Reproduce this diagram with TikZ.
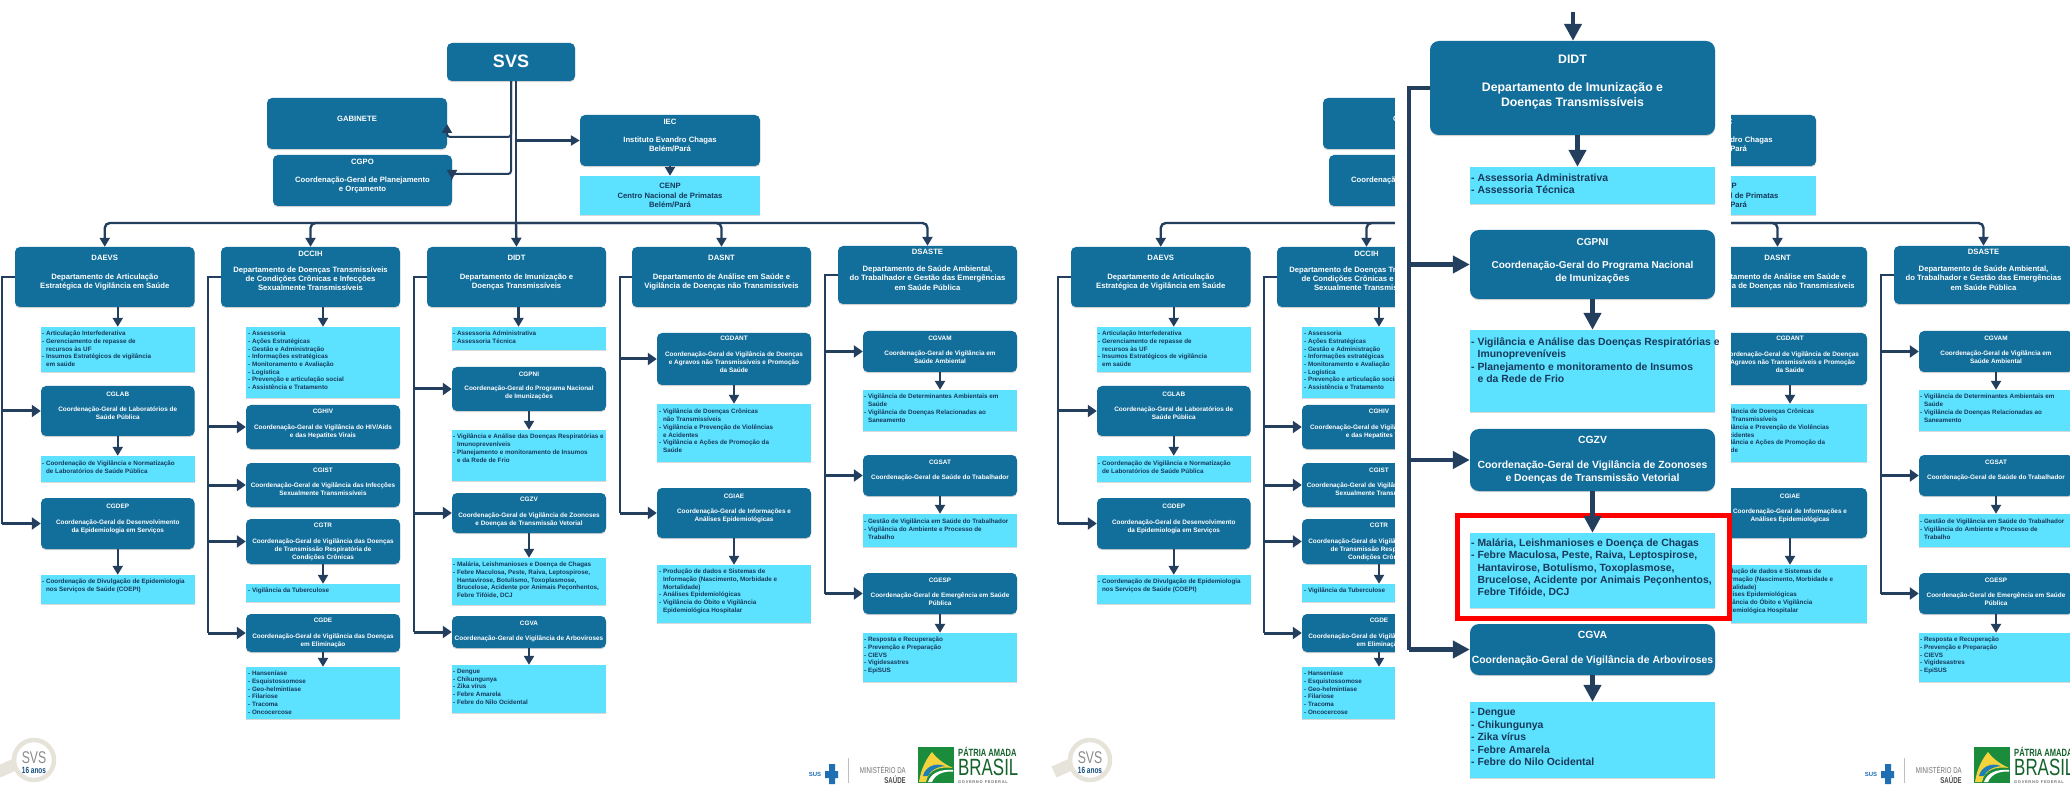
\documentclass[tikz,border=0pt]{standalone}
\usepackage{fontspec}
\setmainfont{Liberation Sans}
\newfontfamily\condfont[FakeStretch=0.72]{Liberation Sans}
\usetikzlibrary{arrows.meta,shadows}

\definecolor{svsblue}{HTML}{126E9B}
\definecolor{svslight}{HTML}{5CE1FF}
\definecolor{svsline}{HTML}{243F5E}
\definecolor{svstext}{HTML}{17395A}
\definecolor{logoring}{HTML}{E6E4DA}
\definecolor{logogreen}{HTML}{1B8C3C}
\definecolor{logoyellow}{HTML}{F5D33C}
\definecolor{logoblue}{HTML}{1F7FB5}
\definecolor{susblue}{HTML}{1F6FB5}

\tikzset{
  darkbox/.style={fill=svsblue, rounded corners=5pt, inner sep=0pt, drop shadow={shadow xshift=0pt, shadow yshift=-1.2pt, opacity=.35}},
  lightbox/.style={fill=svslight, inner sep=0pt, drop shadow={shadow xshift=0pt, shadow yshift=-1.2pt, opacity=.3}},
  depttext/.style={text=white, align=center, anchor=north, inner sep=0pt, yshift=3pt, font=\bfseries\fontsize{7.7}{9.2}\selectfont},
  coordtext/.style={text=white, align=center, anchor=north, inner sep=0pt, yshift=3pt, font=\bfseries\fontsize{6.4}{8}\selectfont},
  listtext/.style={text=svstext, align=left, anchor=north west, inner sep=0pt, yshift=3pt, font=\bfseries\fontsize{6.3}{7.7}\selectfont},
  busline/.style={draw=svsline, line width=2.5pt},
  flow/.style={draw=svsline, line width=2.4pt, -{Triangle[length=9pt,width=10pt]}},
  sideflow/.style={flow, line width=3pt, -{Triangle[length=9pt,width=12pt]}},
}

% box: name, x0, y0, x1, y1, text style, y of first line, text
\newcommand{\orgbox}[8]{
  \node[darkbox, minimum width={(#4-#2)*1pt}, minimum height={(#5-#3)*1pt}] (#1) at ({(#2+#4)/2},{(#3+#5)/2}) {};
  \node[#6] (#1-t) at ({(#2+#4)/2},#7) {#8};
}
% list: name, x0, y0, x1, y1, x of text, y of first line, text
\newcommand{\orglist}[8]{
  \node[lightbox, minimum width={(#4-#2)*1pt}, minimum height={(#5-#3)*1pt}] (#1) at ({(#2+#4)/2},{(#3+#5)/2}) {};
  \node[listtext] (#1-t) at (#6,#7) {#8};
}
\newcommand{\cont}{\hspace*{.62em}}

% what the enlarged column covers on the right
\newcommand{\orgcentre}{
  \orgbox{svs}{447}{43}{575}{81}{depttext, font=\bfseries\fontsize{18}{20}\selectfont, yshift=4pt}{62}{SVS}
  \orgbox{didt}{427}{247}{606}{307}{depttext}{258}{DIDT\\[10pt]Departamento de Imunização e\\Doenças Transmissíveis}
  \orglist{didt-l}{452}{327}{606}{350}{453}{334}{- Assessoria Administrativa\\- Assessoria Técnica}
  \orgbox{cgpni}{452}{367}{606}{411}{coordtext}{375}{CGPNI\\[6pt]Coordenação-Geral do Programa Nacional\\de Imunizações}
  \orglist{cgpni-l}{452}{430}{606}{481}{453}{437}{- Vigilância e Análise das Doenças Respiratórias e\\\cont Imunopreveníveis\\- Planejamento e monitoramento de Insumos\\\cont e da Rede de Frio}
  \orgbox{cgzv}{452}{493}{606}{533}{coordtext}{500}{CGZV\\[8pt]Coordenação-Geral de Vigilância de Zoonoses\\e Doenças de Transmissão Vetorial}
  \orglist{cgzv-l}{452}{558}{606}{605}{453}{565}{- Malária, Leishmanioses e Doença de Chagas\\- Febre Maculosa, Peste, Raiva, Leptospirose,\\\cont Hantavirose, Botulismo, Toxoplasmose,\\\cont Brucelose, Acidente por Animais Peçonhentos,\\\cont Febre Tifóide, DCJ}
  \orgbox{cgva}{452}{616}{606}{648}{coordtext}{624}{CGVA\\[7pt]Coordenação-Geral de Vigilância de Arboviroses}
  \orglist{cgva-l}{452}{665}{606}{713}{453}{672}{- Dengue\\- Chikungunya\\- Zika vírus\\- Febre Amarela\\- Febre do Nilo Ocidental}

  \draw[busline] ([xshift=5pt]svs.south) -- (bus-top);
  \coordinate (gab-end) at (447,124);
  \coordinate (cgpo-end) at (452,179);
  \draw[flow, line width=2pt, rounded corners=3pt] (svs.south) -- (511,137) -- (447,137) -- (gab-end);
  \draw[flow, line width=2pt, rounded corners=3pt] (svs.south) -- (511,174) -- (452,174) -- (cgpo-end);
  \draw[flow] (bus-top |- iec.west) -- (iec.west);
  \draw[flow] (iec.south) -- (cenp.north);
  \draw[flow] (bus-top) -- (didt.north);

  \coordinate (rail-c) at (414,0);
  \coordinate (rail-d) at (620,0);
  \draw[busline] (didt.west) -- (rail-c |- didt.west) -- (rail-c |- cgva.west);
  \draw[busline] (dasnt.west) -- (rail-d |- dasnt.west) -- (rail-d |- cgiae.west);
  \draw[sideflow] (rail-c |- cgpni.west) -- (cgpni.west);
  \draw[sideflow] (rail-c |- cgzv.west) -- (cgzv.west);
  \draw[sideflow] (rail-c |- cgva.west) -- (cgva.west);
  \draw[sideflow] (rail-d |- cgdant.west) -- (cgdant.west);
  \draw[sideflow] (rail-d |- cgiae.west) -- (cgiae.west);
  \draw[flow] ([xshift=2pt]didt.south) -- ([xshift=2pt]didt.south |- didt-l.north);
  \draw[flow] (cgpni.south) -- (cgpni-l.north);
  \draw[flow] (cgzv.south) -- (cgzv-l.north);
  \draw[flow] (cgva.south) -- (cgva-l.north);
}

\newcommand{\orgchart}{
  % top of the chart
  \orgbox{gabinete}{267}{98}{447}{149}{depttext}{119}{GABINETE}
  \orgbox{cgpo}{273}{155}{452}{206}{depttext}{162}{CGPO\\[9pt]Coordenação-Geral de Planejamento\\e Orçamento}
  \orgbox{iec}{580}{115}{760}{166}{depttext}{122}{IEC\\[9pt]Instituto Evandro Chagas\\Belém/Pará}
  \node[lightbox, minimum width=180pt, minimum height=39pt, text=svstext, align=center, font=\bfseries\fontsize{7.7}{9.2}\selectfont] (cenp) at (670,195.5) {CENP\\Centro Nacional de Primatas\\Belém/Pará};

  % departments
  \orgbox{daevs}{15}{247}{194.5}{307}{depttext}{258}{DAEVS\\[10pt]Departamento de Articulação\\Estratégica de Vigilância em Saúde}
  \orgbox{dccih}{221}{247}{400}{307}{depttext}{253.5}{DCCIH\\[7pt]Departamento de Doenças Transmissíveis\\de Condições Crônicas e Infecções\\Sexualmente Transmissíveis}
  \orgbox{dasnt}{632}{247}{811}{307}{depttext}{258}{DASNT\\[10pt]Departamento de Análise em Saúde e\\Vigilância de Doenças não Transmissíveis}
  \orgbox{dsaste}{838}{246}{1017}{304}{depttext}{252}{DSASTE\\[8pt]Departamento de Saúde Ambiental,\\do Trabalhador e Gestão das Emergências\\em Saúde Pública}

  % first column
  \orglist{daevs-l}{41}{327}{194.5}{372}{42}{334}{- Articulação Interfederativa\\- Gerenciamento de repasse de\\\cont recursos às UF\\- Insumos Estratégicos de vigilância\\\cont em saúde}
  \orgbox{colab}{41}{386}{194.5}{436}{coordtext}{395}{CGLAB\\[7pt]Coordenação-Geral de Laboratórios de\\Saúde Pública}
  \orglist{colab-l}{41}{456}{194.5}{482}{42}{464}{- Coordenação de Vigilância e Normatização\\\cont de Laboratórios de Saúde Pública}
  \orgbox{codep}{41}{498}{194.5}{549}{coordtext}{507}{CGDEP\\[8pt]Coordenação-Geral de Desenvolvimento\\da Epidemiologia em Serviços}
  \orglist{codep-l}{41}{575}{194.5}{604}{42}{582}{- Coordenação de Divulgação de Epidemiologia\\\cont nos Serviços de Saúde (COEPI)}

  % second column
  \orglist{dccih-l}{246}{327}{400}{398}{248}{334}{- Assessoria\\- Ações Estratégicas\\- Gestão e Administração\\- Informações estratégicas\\- Monitoramento e Avaliação\\- Logística\\- Prevenção e articulação social\\- Assistência e Tratamento}
  \orgbox{cghiv}{246}{405}{400}{449}{coordtext}{412}{CGHIV\\[8pt]Coordenação-Geral de Vigilância do HIV/Aids\\e das Hepatites Virais}
  \orgbox{cgist}{246}{463}{400}{507}{coordtext}{471}{CGIST\\[7pt]Coordenação-Geral de Vigilância das Infecções\\Sexualmente Transmissíveis}
  \orgbox{cgtr}{246}{519}{400}{564}{coordtext}{526}{CGTR\\[8pt]Coordenação-Geral de Vigilância das Doenças\\de Transmissão Respiratória de\\Condições Crônicas}
  \orglist{cgtr-l}{246}{584}{400}{602}{248}{591}{- Vigilância da Tuberculose}
  \orgbox{cgde}{246}{614}{400}{652}{coordtext}{621}{CGDE\\[8pt]Coordenação-Geral de Vigilância das Doenças\\em Eliminação}
  \orglist{cgde-l}{246}{667}{400}{719}{248}{674}{- Hanseníase\\- Esquistossomose\\- Geo-helmintíase\\- Filariose\\- Tracoma\\- Oncocercose}

  % fourth column
  \orgbox{cgdant}{657}{333}{811}{385}{coordtext}{339}{CGDANT\\[8pt]Coordenação-Geral de Vigilância de Doenças\\e Agravos não Transmissíveis e Promoção\\da Saúde}
  \orglist{cgdant-l}{657}{404}{811}{462}{659}{412}{- Vigilância de Doenças Crônicas\\\cont não Transmissíveis\\- Vigilância e Prevenção de Violências\\\cont e Acidentes\\- Vigilância e Ações de Promoção da\\\cont Saúde}
  \orgbox{cgiae}{657}{488}{811}{538}{coordtext}{497}{CGIAE\\[7pt]Coordenação-Geral de Informações e\\Análises Epidemiológicas}
  \orglist{cgiae-l}{657}{565}{811}{623}{659}{572}{- Produção de dados e Sistemas de\\\cont Informação (Nascimento, Morbidade e\\\cont Mortalidade)\\- Análises Epidemiológicas\\- Vigilância do Óbito e Vigilância\\\cont Epidemiológica Hospitalar}

  % fifth column
  \orgbox{cgvam}{863}{331}{1017}{372}{coordtext}{339}{CGVAM\\[7pt]Coordenação-Geral de Vigilância em\\Saúde Ambiental}
  \orglist{cgvam-l}{863}{390}{1017}{431}{864}{397}{- Vigilância de Determinantes Ambientais em\\\cont Saúde\\- Vigilância de Doenças Relacionadas ao\\\cont Saneamento}
  \orgbox{cgsat}{863}{455}{1017}{496}{coordtext}{463}{CGSAT\\[7pt]Coordenação-Geral de Saúde do Trabalhador}
  \orglist{cgsat-l}{863}{514}{1017}{547}{864}{522}{- Gestão de Vigilância em Saúde do Trabalhador\\- Vigilância do Ambiente e Processo de\\\cont Trabalho}
  \orgbox{cgesp}{863}{573}{1017}{614}{coordtext}{581}{CGESP\\[7pt]Coordenação-Geral de Emergência em Saúde\\Pública}
  \orglist{cgesp-l}{863}{633}{1017}{682}{864}{640}{- Resposta e Recuperação\\- Prevenção e Preparação\\- CIEVS\\- Vigidesastres\\- EpiSUS}

  % top bus
  \coordinate (bus-top) at (516,223);
  \draw[flow, rounded corners=5pt] (bus-top) -| (daevs.north);
  \draw[flow, rounded corners=5pt] (bus-top) -| (dccih.north);
  \draw[flow, rounded corners=5pt] (bus-top) -| (dasnt.north);
  \draw[flow, rounded corners=5pt] (bus-top) -| (dsaste.north);

  % column rails
  \coordinate (rail-a) at (2,0);
  \coordinate (rail-b) at (208,0);
  \coordinate (rail-e) at (825,0);
  \draw[busline] (daevs.west) -- (rail-a |- daevs.west) -- (rail-a |- codep.west);
  \draw[busline] (dccih.west) -- (rail-b |- dccih.west) -- (rail-b |- cgde.west);
  \draw[busline] (dsaste.west) -- (rail-e |- dsaste.west) -- (rail-e |- cgesp.west);
  \draw[sideflow] (rail-a |- colab.west) -- (colab.west);
  \draw[sideflow] (rail-a |- codep.west) -- (codep.west);
  \draw[sideflow] (rail-b |- cghiv.west) -- (cghiv.west);
  \draw[sideflow] (rail-b |- cgist.west) -- (cgist.west);
  \draw[sideflow] (rail-b |- cgtr.west) -- (cgtr.west);
  \draw[sideflow] (rail-b |- cgde.west) -- (cgde.west);
  \draw[sideflow] (rail-e |- cgvam.west) -- (cgvam.west);
  \draw[sideflow] (rail-e |- cgsat.west) -- (cgsat.west);
  \draw[sideflow] (rail-e |- cgesp.west) -- (cgesp.west);

  % links inside the columns
  \draw[flow] (daevs-l.north |- daevs.south) -- (daevs-l.north);
  \draw[flow] (colab.south) -- (colab-l.north);
  \draw[flow] (codep.south) -- (codep-l.north);
  \draw[flow] (dccih-l.north |- dccih.south) -- (dccih-l.north);
  \draw[flow] (cgtr.south) -- (cgtr-l.north);
  \draw[flow] (cgde.south) -- (cgde-l.north);
  \draw[flow] (cgdant.south) -- (cgdant-l.north);
  \draw[flow] (cgiae.south) -- (cgiae-l.north);
  \draw[flow] (cgvam.south) -- (cgvam-l.north);
  \draw[flow] (cgsat.south) -- (cgsat-l.north);
  \draw[flow] (cgesp.south) -- (cgesp-l.north);

  % logos
  \draw[logoring, line width=12pt] (-2,772) -- (16,764);
  \draw[logoring, line width=4.5pt] (34,760) circle [radius=20];
  \fill[white] (5,725) rectangle (65,736.5);
  \node[text=black!45, font=\condfont\fontsize{17}{17}\selectfont, inner sep=0pt] (svs-logo) at (34,758) {SVS};
  \node[text=susblue!70!black, font=\condfont\bfseries\fontsize{9}{9}\selectfont, inner sep=0pt] (svs-anos) at (34,770) {16 anos};
  \node[text=susblue, font=\bfseries\fontsize{6}{7}\selectfont, inner sep=0pt] (sus-logo) at (815,774) {SUS};
  \fill[susblue] (829,764) rectangle (835,784) (825,771) rectangle (838,778);
  \draw[black!25] (848,758) -- (848,783);
  \node[text=black!55, anchor=east, font=\condfont\fontsize{8.5}{9}\selectfont, inner sep=0pt] (ms-top) at (906,770) {MINISTÉRIO DA};
  \node[text=black!70, anchor=east, font=\condfont\bfseries\fontsize{8.5}{9}\selectfont, inner sep=0pt] (ms-bottom) at (906,780) {SAÚDE};
  \fill[logogreen] (918,747) rectangle (954,783);
  \fill[logoyellow] (919,782) .. controls (921,768) and (927,758) .. (932,752) .. controls (938,760) and (946,765) .. (953,768) .. controls (940,766) and (928,770) .. (926,782) -- cycle;
  \fill[logoblue] (923,776) .. controls (925,767) and (935,762) .. (945,766) .. controls (936,767) and (930,771) .. (928,776) -- cycle;
  \fill[white] (928,782) .. controls (931,773) and (940,769) .. (953,770) -- (953,771.5) .. controls (942,771) and (935,775) .. (932,782) -- cycle;
  \node[text=logogreen!70!black, anchor=west, font=\condfont\bfseries\fontsize{10.5}{12}\selectfont, inner sep=0pt] (patria) at (958,752) {PÁTRIA AMADA};
  \node[text=logogreen!70!black, anchor=west, font=\condfont\fontsize{23.5}{25}\selectfont, inner sep=0pt] (brasil) at (958,767) {BRASIL};
  \node[text=black!55, anchor=west, font=\bfseries\fontsize{4}{5}\selectfont, inner sep=0pt] (governo) at (958,782) {G\,O\,V\,E\,R\,N\,O\ \ F\,E\,D\,E\,R\,A\,L};
}

\begin{document}
\begin{tikzpicture}[x=1pt, y=-1pt]
  \useasboundingbox (0,0) rectangle (2070,791);
  \clip (0,0) rectangle (2070,791);
  \fill[white] (0,0) rectangle (2070,791);
  \begin{scope}[name prefix=a-]
    \orgchart
    \orgcentre
  \end{scope}
  \begin{scope}[xshift=1056pt, name prefix=b-]
    \orgchart
  \end{scope}

  % enlarged column
  \fill[white] (1395,0) rectangle (1731,791);
  \begin{scope}[
      darkbox/.append style={rounded corners=9pt},
      coordtext/.append style={yshift=1.5pt, font=\bfseries\fontsize{10.4}{13}\selectfont},
      depttext/.append style={yshift=1.5pt, font=\bfseries\fontsize{12.3}{15}\selectfont},
      listtext/.append style={yshift=1.5pt, font=\bfseries\fontsize{10.4}{12.4}\selectfont},
      busline/.append style={line width=4pt},
      flow/.append style={line width=4.5pt, -{Triangle[length=17pt,width=17pt]}},
    ]
    \orgbox{bigdidt}{1430}{41}{1715}{135}{depttext}{59}{DIDT\\[13pt]Departamento de Imunização e\\Doenças Transmissíveis}
    \orglist{bigdidt-l}{1470}{167}{1715}{204}{1471}{178}{- Assessoria Administrativa\\- Assessoria Técnica}
    \orgbox{bigcgpni}{1470}{230}{1715}{299}{coordtext, font=\bfseries\fontsize{10}{13}\selectfont}{243}{CGPNI\\[10pt]Coordenação-Geral do Programa Nacional\\de Imunizações}
    \orglist{bigcgpni-l}{1470}{330}{1715}{412}{1471}{342}{- Vigilância e Análise das Doenças Respiratórias e\\\cont Imunopreveníveis\\- Planejamento e monitoramento de Insumos\\\cont e da Rede de Frio}
    \orgbox{bigcgzv}{1470}{429}{1715}{491}{coordtext}{441}{CGZV\\[12pt]Coordenação-Geral de Vigilância de Zoonoses\\e Doenças de Transmissão Vetorial}
    \orglist{bigcgzv-l}{1470}{533}{1715}{608}{1471}{543}{- Malária, Leishmanioses e Doença de Chagas\\- Febre Maculosa, Peste, Raiva, Leptospirose,\\\cont Hantavirose, Botulismo, Toxoplasmose,\\\cont Brucelose, Acidente por Animais Peçonhentos,\\\cont Febre Tifóide, DCJ}
    \orgbox{bigcgva}{1470}{624}{1715}{675}{coordtext}{636}{CGVA\\[12pt]Coordenação-Geral de Vigilância de Arboviroses}
    \orglist{bigcgva-l}{1470}{702}{1715}{778}{1471}{713}{- Dengue\\- Chikungunya\\- Zika vírus\\- Febre Amarela\\- Febre do Nilo Ocidental}
    \draw[red, line width=5pt] (1457.5,515.5) rectangle (1729.5,618.5);

    \coordinate (bigtop) at (1573,12);
    \coordinate (bigrail) at (1409,0);
    \draw[flow] (bigtop) -- (bigtop |- bigdidt.north);
    \draw[busline] (bigdidt.west) -- (bigrail |- bigdidt.west) -- (bigrail |- bigcgva.west);
    \draw[flow] (bigrail |- bigcgpni.west) -- (bigcgpni.west);
    \draw[flow] (bigrail |- bigcgzv.west) -- (bigcgzv.west);
    \draw[flow] (bigrail |- bigcgva.west) -- (bigcgva.west);
    \draw[flow] ([xshift=5pt]bigdidt.south) -- ([xshift=5pt]bigdidt.south |- bigdidt-l.north);
    \draw[flow] (bigcgpni.south) -- (bigcgpni-l.north);
    \draw[flow] (bigcgzv.south) -- (bigcgzv-l.north);
    \draw[flow] (bigcgva.south) -- (bigcgva-l.north);
  \end{scope}
\end{tikzpicture}
\end{document}
